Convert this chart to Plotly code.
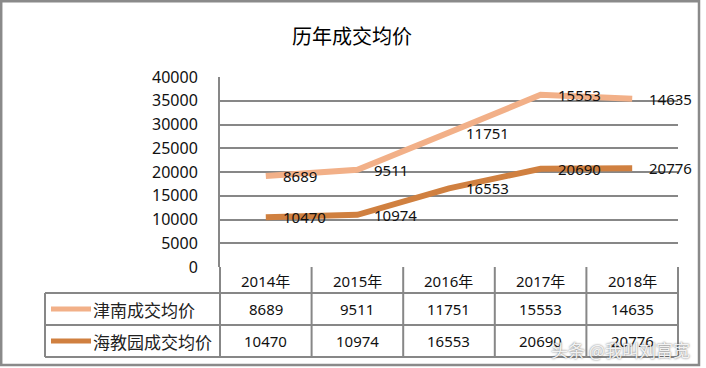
import plotly.graph_objects as go

years = ["2014年", "2015年", "2016年", "2017年", "2018年"]
jinnan = [8689, 9511, 11751, 15553, 14635]
haijiao = [10470, 10974, 16553, 20690, 20776]
series_names = ["津南成交均价", "海教园成交均价"]
y_ticks = [0, 5000, 10000, 15000, 20000, 25000, 30000, 35000, 40000]
title = "历年成交均价"
watermark = "头条 @我叫刘富宽"

W, H = 706, 368
LIGHT = "#F2B088"
DARK = "#D08040"
GRID = "#878787"
NUMFONT = "Noto Sans, Noto Sans CJK SC, sans-serif"
CJK = "Noto Sans CJK SC, sans-serif"

# stacked line chart (Excel stacked line)
stack_top = [a + b for a, b in zip(jinnan, haijiao)]
x_idx = list(range(len(years)))

# pixel layout
PX_L, PX_R = 220, 678
PX_T, PX_B = 77, 267


def px(x):
    return x / W


def py(y):
    return 1 - y / H


fig = go.Figure()
fig.add_trace(go.Scatter(x=x_idx, y=haijiao, mode="lines", line=dict(color=DARK, width=6),
                         name=series_names[1], showlegend=False, hoverinfo="skip"))
fig.add_trace(go.Scatter(x=x_idx, y=stack_top, mode="lines", line=dict(color=LIGHT, width=6),
                         name=series_names[0], showlegend=False, hoverinfo="skip"))

annotations = []
# data labels
for i in x_idx:
    annotations.append(dict(x=i, y=stack_top[i], xref="x", yref="y", text=str(jinnan[i]),
                            showarrow=False, xanchor="left", yanchor="middle", xshift=15,
                            font=dict(family=NUMFONT, size=15, color="#111")))
    annotations.append(dict(x=i, y=haijiao[i], xref="x", yref="y", text=str(haijiao[i]),
                            showarrow=False, xanchor="left", yanchor="middle", xshift=15,
                            font=dict(family=NUMFONT, size=15, color="#111")))

# table
col_edges = [PX_L + (PX_R - PX_L) * k / len(years) for k in range(len(years) + 1)]
row_y = [267, 293, 325, 357]
shapes = []
line_style = dict(color=GRID, width=2)
for k, xe in enumerate(col_edges):
    shapes.append(dict(type="line", xref="paper", yref="paper", x0=px(xe), x1=px(xe),
                       y0=py(row_y[0]), y1=py(row_y[3]), line=line_style))
shapes.append(dict(type="line", xref="paper", yref="paper", x0=px(45), x1=px(45),
                   y0=py(row_y[1]), y1=py(row_y[3]), line=line_style))
for ry in row_y[1:]:
    shapes.append(dict(type="line", xref="paper", yref="paper", x0=px(45), x1=px(PX_R),
                       y0=py(ry), y1=py(ry), line=line_style))
# legend keys in table
for r, colr in enumerate([LIGHT, DARK]):
    yc = (row_y[r + 1] + row_y[r + 2]) / 2
    shapes.append(dict(type="line", xref="paper", yref="paper", x0=px(51), x1=px(91),
                       y0=py(yc), y1=py(yc), line=dict(color=colr, width=5)))
# outer border
shapes.append(dict(type="rect", xref="paper", yref="paper", x0=px(1.2), x1=px(699),
                   y0=py(365), y1=py(1.2), line=dict(color="#8A8A8A", width=2.5)))

for k, yr in enumerate(years):
    xc = (col_edges[k] + col_edges[k + 1]) / 2
    annotations.append(dict(x=px(xc), y=py((row_y[0] + row_y[1]) / 2 + 1), xref="paper", yref="paper",
                            text=yr, showarrow=False, xanchor="center", yanchor="middle",
                            font=dict(family=NUMFONT, size=15, color="#111")))
    for r, vals in enumerate([jinnan, haijiao]):
        yc = (row_y[r + 1] + row_y[r + 2]) / 2
        annotations.append(dict(x=px(xc), y=py(yc), xref="paper", yref="paper",
                                text=str(vals[k]), showarrow=False, xanchor="center", yanchor="middle",
                                font=dict(family=NUMFONT, size=15, color="#111")))
for r, nm in enumerate(series_names):
    yc = (row_y[r + 1] + row_y[r + 2]) / 2
    annotations.append(dict(x=px(91), y=py(yc), xref="paper", yref="paper", text=nm,
                            showarrow=False, xanchor="left", yanchor="middle",
                            font=dict(family=CJK, size=17, color="#222")))

# title
annotations.append(dict(x=px(352), y=py(35), xref="paper", yref="paper", text=title,
                        showarrow=False, xanchor="center", yanchor="middle",
                        font=dict(family=CJK, size=20, color="#000")))
# watermark
annotations.append(dict(x=px(620), y=py(349), xref="paper", yref="paper", text=watermark,
                        showarrow=False, xanchor="center", yanchor="middle",
                        font=dict(family=CJK, size=17, color="rgba(255,255,255,0.9)",
                                  shadow="0px 0px 2px #444")))

fig.update_layout(
    template="none",
    width=W, height=H,
    margin=dict(l=0, r=0, t=0, b=0, pad=0, autoexpand=False),
    paper_bgcolor="white", plot_bgcolor="white",
    showlegend=False,
    xaxis=dict(domain=[px(PX_L), px(PX_R)], range=[-0.5, len(years) - 0.5], automargin=False,
               showgrid=False, zeroline=False, showticklabels=False, ticks="", showline=False,
               fixedrange=True),
    yaxis=dict(domain=[py(PX_B), py(PX_T)], range=[0, 40000], tickvals=y_ticks, automargin=False,
               ticktext=[str(v) for v in y_ticks],
               showgrid=True, gridcolor=GRID, gridwidth=2, zeroline=False,
               showline=True, linecolor=GRID, linewidth=2,
               ticks="outside", ticklen=0, ticklabelstandoff=17,
               tickfont=dict(family=NUMFONT, size=16, color="#111"), fixedrange=True),
    shapes=shapes,
    annotations=annotations,
)

post = ("document.body.style.margin='0';"
        "document.documentElement.style.overflow='hidden';")
fig.write_html("out.html", post_script=post, config={"displayModeBar": False})
